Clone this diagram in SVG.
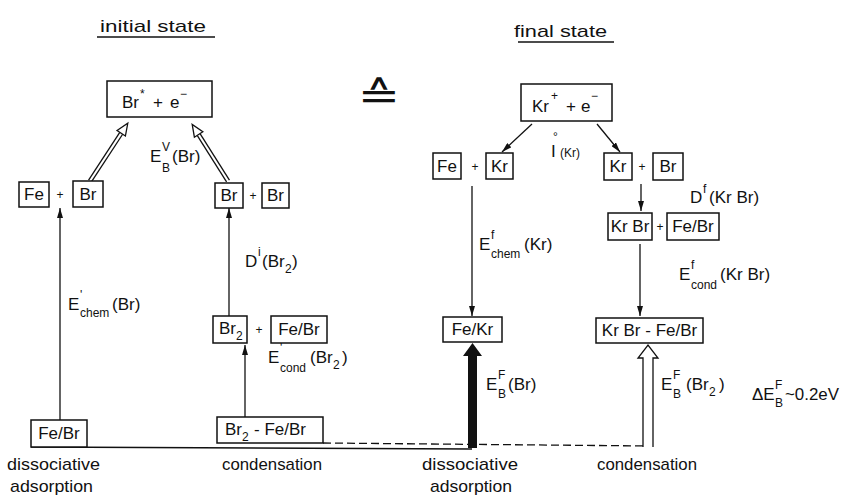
<svg xmlns="http://www.w3.org/2000/svg" width="844" height="500" viewBox="0 0 844 500">
<style>
text{font-family:"Liberation Sans",Arial,sans-serif;font-size:17px;fill:#111}
.sm{font-size:12px}
.box{fill:#fff;stroke:#111;stroke-width:1.5}
.ln{stroke:#111;stroke-width:1.3;fill:none}
.bm{text-anchor:middle}
</style>
<defs>
<marker id="ah" viewBox="0 0 10 6" refX="10" refY="3" markerWidth="10" markerHeight="6" markerUnits="userSpaceOnUse" orient="auto">
<path d="M0,0 L10,3 L0,6 Z" fill="#111"/>
</marker>
</defs>

<g id="titles">
<text x="100" y="32" textLength="106" lengthAdjust="spacingAndGlyphs">initial state</text>
<line class="ln" x1="97" y1="37" x2="215" y2="37"/>
<text x="514" y="37" textLength="93" lengthAdjust="spacingAndGlyphs">final state</text>
<line class="ln" x1="518" y1="42" x2="614" y2="42"/>
<text transform="translate(379,109) scale(1.3,1)" class="bm" style="font-size:39px;font-family:'DejaVu Sans',sans-serif">≙</text>
</g>

<g id="connectors">
<g transform="translate(90,181) rotate(33.2)">
<line class="ln" x1="-1.7" y1="0" x2="-1.7" y2="-57"/>
<line class="ln" x1="1.7" y1="0" x2="1.7" y2="-57"/>
<path d="M-5,-57 L0,-69 L5,-57 Z" fill="#fff" stroke="#111" stroke-width="1.3"/>
</g>
<g transform="translate(228,181) rotate(-32.3)">
<line class="ln" x1="-1.7" y1="0" x2="-1.7" y2="-55"/>
<line class="ln" x1="1.7" y1="0" x2="1.7" y2="-55"/>
<path d="M-5,-55 L0,-67 L5,-55 Z" fill="#fff" stroke="#111" stroke-width="1.3"/>
</g>
<line class="ln" x1="60" y1="420" x2="60" y2="208" marker-end="url(#ah)"/>
<line class="ln" x1="229" y1="316" x2="229" y2="208" marker-end="url(#ah)"/>
<line class="ln" x1="245" y1="417" x2="245" y2="345" marker-end="url(#ah)"/>
<line class="ln" x1="532" y1="124" x2="502" y2="152" marker-end="url(#ah)"/>
<line class="ln" x1="597" y1="124" x2="620" y2="152" marker-end="url(#ah)"/>
<line class="ln" x1="472" y1="186" x2="472" y2="316" marker-end="url(#ah)"/>
<line class="ln" x1="641" y1="184" x2="641" y2="211" marker-end="url(#ah)"/>
<line class="ln" x1="640" y1="244" x2="640" y2="316" marker-end="url(#ah)"/>
<line class="ln" x1="31" y1="447" x2="472" y2="449"/>
<line class="ln" x1="323" y1="443" x2="652" y2="446" stroke-dasharray="8,4"/>
<path d="M468,448 L468,356 L463,356 L472.5,343 L482,356 L477,356 L477,448 Z" fill="#111"/>
<path d="M643,447 L643,358 L638,358 L648,345 L658,358 L653,358 L653,447" fill="#fff" stroke="#111" stroke-width="1.3"/>
</g>

<g id="labels">
<text x="150" y="162">E<tspan class="sm" x="162" y="151">V</tspan><tspan class="sm" x="162" y="172">B</tspan><tspan x="172" y="162">(Br)</tspan></text>
<text x="68" y="310">E<tspan class="sm" x="80" y="299">'</tspan><tspan class="sm" x="80" y="317">chem</tspan><tspan x="112" y="310">(Br)</tspan></text>
<text x="245" y="267">D<tspan class="sm" x="258" y="256">i</tspan><tspan x="262" y="267">(Br</tspan><tspan class="sm" x="285" y="273">2</tspan><tspan x="292" y="267">)</tspan></text>
<text x="268" y="363">E<tspan class="sm" x="280" y="352">'</tspan><tspan class="sm" x="280" y="372">cond</tspan><tspan x="310" y="363">(Br</tspan><tspan class="sm" x="333" y="369">2</tspan><tspan x="342" y="363">)</tspan></text>
<text x="551" y="157">I<tspan class="sm" x="553" y="141">°</tspan><tspan class="sm" x="560" y="157">(Kr)</tspan></text>
<text x="479" y="250">E<tspan class="sm" x="491" y="239">f</tspan><tspan class="sm" x="491" y="258">chem</tspan><tspan x="524" y="250">(Kr)</tspan></text>
<text x="690" y="203">D<tspan class="sm" x="703" y="193">f</tspan><tspan x="709" y="203">(Kr Br)</tspan></text>
<text x="679" y="280">E<tspan class="sm" x="691" y="269">f</tspan><tspan class="sm" x="691" y="289">cond</tspan><tspan x="720" y="280">(Kr Br)</tspan></text>
<text x="486" y="390">E<tspan class="sm" x="498" y="379">F</tspan><tspan class="sm" x="498" y="398">B</tspan><tspan x="508" y="390">(Br)</tspan></text>
<text x="661" y="390">E<tspan class="sm" x="673" y="379">F</tspan><tspan class="sm" x="673" y="398">B</tspan><tspan x="686" y="390">(Br</tspan><tspan class="sm" x="709" y="396">2</tspan><tspan x="719" y="390">)</tspan></text>
<text x="752" y="400">ΔE<tspan class="sm" x="775" y="389">F</tspan><tspan class="sm" x="775" y="407">B</tspan></text>
<text x="785" y="400" textLength="54" lengthAdjust="spacingAndGlyphs">~0.2eV</text>
<text x="7" y="470" textLength="93" lengthAdjust="spacingAndGlyphs">dissociative</text>
<text x="10" y="492" textLength="83" lengthAdjust="spacingAndGlyphs">adsorption</text>
<text x="222" y="470" textLength="100" lengthAdjust="spacingAndGlyphs">condensation</text>
<text x="422" y="470" textLength="96" lengthAdjust="spacingAndGlyphs">dissociative</text>
<text x="430" y="492" textLength="82" lengthAdjust="spacingAndGlyphs">adsorption</text>
<text x="597" y="470" textLength="100" lengthAdjust="spacingAndGlyphs">condensation</text>
</g>

<g id="n-br-star">
<rect class="box" x="107" y="81" width="105" height="36"/>
<text x="122" y="108">Br<tspan class="sm" x="140" y="98">*</tspan><tspan x="153" y="108">+</tspan><tspan x="170" y="108">e</tspan><tspan class="sm" x="180" y="98">−</tspan></text>
</g>
<g id="n-fe-br-left">
<rect class="box" x="19" y="182" width="30" height="25"/>
<text x="34" y="200" class="bm">Fe</text>
<text x="60" y="199" class="bm sm">+</text>
<rect class="box" x="73" y="181" width="30" height="26"/>
<text x="88" y="200" class="bm">Br</text>
</g>
<g id="n-br-br">
<rect class="box" x="215" y="183" width="28" height="25"/>
<text x="229" y="201" class="bm">Br</text>
<text x="253" y="200" class="bm sm">+</text>
<rect class="box" x="262" y="183" width="27" height="25"/>
<text x="275.5" y="201" class="bm">Br</text>
</g>
<g id="n-br2-febr">
<rect class="box" x="213" y="316" width="34" height="27"/>
<text x="219" y="334">Br<tspan class="sm" y="340">2</tspan></text>
<text x="259" y="334" class="bm sm">+</text>
<rect class="box" x="271" y="316" width="56" height="27"/>
<text x="299" y="335" class="bm">Fe/Br</text>
</g>
<g id="n-br2-febr-ads">
<rect class="box" x="217" y="417" width="106" height="26"/>
<text x="225" y="435">Br<tspan class="sm" y="441">2</tspan><tspan x="254" y="435">- Fe/Br</tspan></text>
</g>
<g id="n-febr-left">
<rect class="box" x="31" y="420" width="56" height="27"/>
<text x="59" y="439" class="bm">Fe/Br</text>
</g>

<g id="n-kr-plus">
<rect class="box" x="521" y="84" width="91" height="37"/>
<text x="532" y="112">Kr<tspan class="sm" x="551" y="100">+</tspan><tspan x="566" y="112">+</tspan><tspan x="581" y="112">e</tspan><tspan class="sm" x="591" y="100">−</tspan></text>
</g>
<g id="n-fe-kr">
<rect class="box" x="433" y="153" width="28" height="26"/>
<text x="447" y="172" class="bm">Fe</text>
<text x="475" y="171" class="bm sm">+</text>
<rect class="box" x="486" y="153" width="27" height="26"/>
<text x="499.5" y="172" class="bm">Kr</text>
</g>
<g id="n-kr-br">
<rect class="box" x="604" y="153" width="28" height="27"/>
<text x="618" y="172" class="bm">Kr</text>
<text x="642" y="171" class="bm sm">+</text>
<rect class="box" x="653" y="153" width="30" height="27"/>
<text x="668" y="172" class="bm">Br</text>
</g>
<g id="n-krbr-febr">
<rect class="box" x="608" y="213" width="44" height="27"/>
<text x="630" y="232" class="bm">Kr Br</text>
<text x="660" y="231" class="bm sm">+</text>
<rect class="box" x="667" y="213" width="52" height="27"/>
<text x="693" y="232" class="bm">Fe/Br</text>
</g>
<g id="n-fekr">
<rect class="box" x="443" y="317" width="59" height="25"/>
<text x="472.5" y="335" class="bm">Fe/Kr</text>
</g>
<g id="n-krbr-febr-ads">
<rect class="box" x="596" y="318" width="107" height="25"/>
<text x="649.5" y="336" class="bm">Kr Br - Fe/Br</text>
</g>
</svg>
